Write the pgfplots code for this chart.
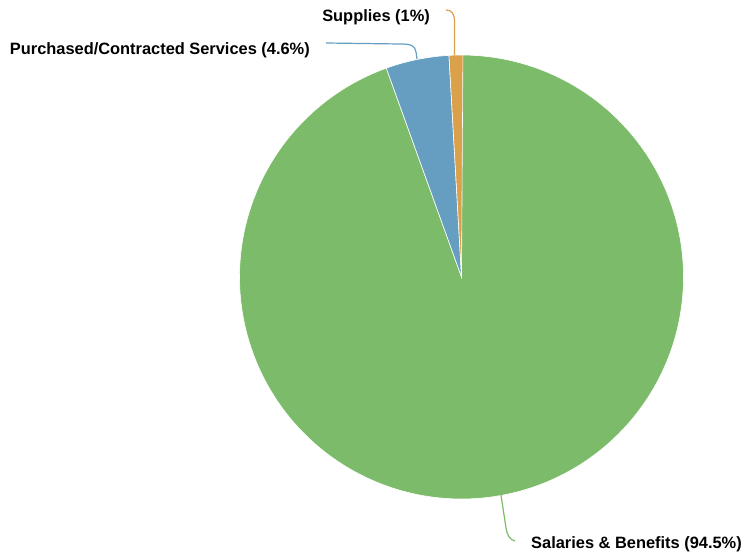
\documentclass[border=0pt]{standalone}
\usepackage{pgfplots}
\pgfplotsset{compat=1.18}
\usepackage{fontspec}
\setmainfont{Liberation Sans}
\definecolor{cgreen}{RGB}{124,187,105}
\definecolor{cblue}{RGB}{102,158,194}
\definecolor{corange}{RGB}{219,160,74}
\tikzset{lbl/.style={font=\bfseries\fontsize{16.4}{18}\selectfont,inner sep=0pt,text=black}}
\begin{document}
\begin{tikzpicture}
\def\cx{461.5}\def\cy{277}\def\r{222}
% slice values (percent)
\def\vA{94.5}\def\vB{4.6}\def\vC{1}
\pgfmathsetmacro\aA{\vA*3.6}
\pgfmathsetmacro\aB{(\vA+\vB)*3.6}
\pgfmathsetmacro\aC{(\vA+\vB+\vC)*3.6}
\begin{axis}[width=743pt,height=557pt,scale only axis,
  xmin=0,xmax=743,ymin=0,ymax=557,y dir=reverse,
  hide axis,clip=false]
\addplot[fill=cgreen,draw=white,line width=0.6pt,domain=0:\aA,samples=200,variable=\t]
  ({\cx+\r*sin(t)},{\cy-\r*cos(t)}) -- (axis cs:\cx,\cy) -- cycle;
\addplot[fill=cblue,draw=white,line width=0.6pt,domain=\aA:\aB,samples=20,variable=\t]
  ({\cx+\r*sin(t)},{\cy-\r*cos(t)}) -- (axis cs:\cx,\cy) -- cycle;
\addplot[fill=corange,draw=white,line width=0.6pt,domain=\aB:\aC,samples=8,variable=\t]
  ({\cx+\r*sin(t)},{\cy-\r*cos(t)}) -- (axis cs:\cx,\cy) -- cycle;
% leader lines
\draw[corange,line width=1.2pt] (axis cs:446,10) .. controls (axis cs:452,10) and (axis cs:454.5,14) .. (axis cs:454.5,22) -- (axis cs:454.5,55);
\draw[cblue,line width=1.2pt] (axis cs:326,43) -- (axis cs:400,44) .. controls (axis cs:412,44) and (axis cs:415,46) .. (axis cs:416,52) -- (axis cs:417,59);
\draw[cgreen,line width=1.2pt] (axis cs:501,495) -- (axis cs:506,528) .. controls (axis cs:507,535) and (axis cs:510,540) .. (axis cs:515,541);
% labels
\node[lbl,anchor=base east] at (axis cs:430,21) {Supplies (1\%)};
\node[lbl,anchor=base east] at (axis cs:310,54) {Purchased/Contracted Services (4.6\%)};
\node[lbl,anchor=base west] at (axis cs:531,548) {Salaries \& Benefits (94.5\%)};
\end{axis}
\useasboundingbox (current axis.south west) rectangle (current axis.north east);
\end{tikzpicture}
\end{document}
